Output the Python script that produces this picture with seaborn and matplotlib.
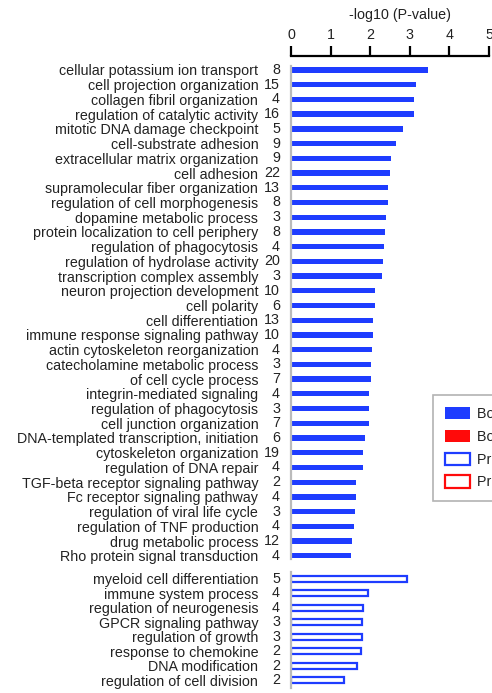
import matplotlib
matplotlib.use("Agg")
import matplotlib.pyplot as plt
from matplotlib.patches import Patch
import seaborn as sns
import pandas as pd

sns.set_style("white")
plt.rcParams["font.family"] = ["Liberation Sans", "DejaVu Sans"]

# Terms enriched in both datasets (filled bars)
both_terms = [
    "cellular potassium ion transport", "cell projection organization",
    "collagen fibril organization", "regulation of catalytic activity",
    "mitotic DNA damage checkpoint", "cell-substrate adhesion",
    "extracellular matrix organization", "cell adhesion",
    "supramolecular fiber organization", "regulation of cell morphogenesis",
    "dopamine metabolic process", "protein localization to cell periphery",
    "regulation of phagocytosis", "regulation of hydrolase activity",
    "transcription complex assembly", "neuron projection development",
    "cell polarity", "cell differentiation",
    "immune response signaling pathway", "actin cytoskeleton reorganization",
    "catecholamine metabolic process", "of cell cycle process",
    "integrin-mediated signaling", "regulation of phagocytosis",
    "cell junction organization", "DNA-templated transcription, initiation",
    "cytoskeleton organization", "regulation of DNA repair",
    "TGF-beta receptor signaling pathway", "Fc receptor signaling pathway",
    "regulation of viral life cycle", "regulation of TNF production",
    "drug metabolic process", "Rho protein signal transduction",
]
both_counts = [8, 15, 4, 16, 5, 9, 9, 22, 13, 8, 3, 8, 4, 20, 3, 10, 6, 13,
               10, 4, 3, 7, 4, 3, 7, 6, 19, 4, 2, 4, 3, 4, 12, 4]
both_logp = [3.45, 3.16, 3.10, 3.10, 2.84, 2.66, 2.52, 2.50, 2.46, 2.44,
             2.41, 2.37, 2.35, 2.33, 2.31, 2.11, 2.11, 2.08, 2.06, 2.04,
             2.03, 2.01, 1.97, 1.96, 1.96, 1.86, 1.81, 1.81, 1.65, 1.65,
             1.62, 1.60, 1.54, 1.52]

# Terms enriched in the protein dataset only (outlined bars)
prot_terms = [
    "myeloid cell differentiation", "immune system process",
    "regulation of neurogenesis", "GPCR signaling pathway",
    "regulation of growth", "response to chemokine",
    "DNA modification", "regulation of cell division",
]
prot_counts = [5, 4, 4, 3, 3, 2, 2, 2]
prot_logp = [2.93, 1.94, 1.83, 1.80, 1.80, 1.77, 1.67, 1.35]

legend_labels = ["Both up", "Both down", "Protein up", "Protein down"]
xticks = [0, 1, 2, 3, 4, 5]

BLUE = "#1E3CFF"
RED = "#FF0A0A"
TEXT = "#222222"
SPINE = "#BBBBBB"
FS = 10.3

W, H = 492, 693
fig = plt.figure(figsize=(W / 100, H / 100), dpi=100)

x0, x1 = 291, 489


def axes_box(top_px, bottom_px):
    return [x0 / W, 1 - bottom_px / H, (x1 - x0) / W, (bottom_px - top_px) / H]


ax1 = fig.add_axes(axes_box(66, 559))
ax2 = fig.add_axes(axes_box(571.5, 688))


def draw_group(ax, terms, counts, values, filled, ylim):
    df = pd.DataFrame({"row": list(range(len(terms))), "value": values})
    if filled:
        sns.barplot(data=df, x="value", y="row", orient="h", color=BLUE,
                    saturation=1, width=0.36, linewidth=0, ax=ax,
                    native_scale=True)
    else:
        sns.barplot(data=df, x="value", y="row", orient="h", color=BLUE,
                    saturation=1, fill=False, width=0.42, linewidth=1.6,
                    ax=ax, native_scale=True)
    ax.set_xlim(0, 5)
    ax.set_ylim(*ylim)
    ax.set_yticks(range(len(terms)))
    ax.set_yticklabels(terms, fontsize=FS, color=TEXT)
    ax.tick_params(axis="y", length=0, pad=23.5)
    for i, c in enumerate(counts):
        ax.text(-11 / (x1 - x0), i, str(c), transform=ax.get_yaxis_transform(),
                ha="right", va="center", fontsize=FS, color=TEXT)
    ax.set_xlabel("")
    ax.set_ylabel("")
    for s in ["right", "bottom", "top"]:
        ax.spines[s].set_visible(False)
    ax.spines["left"].set_color(SPINE)
    ax.spines["left"].set_linewidth(1.6)


draw_group(ax1, both_terms, both_counts, both_logp, True, (33.22, -0.27))
draw_group(ax2, prot_terms, prot_counts, prot_logp, False, (7.55, -0.5))

# Value axis drawn along the top of the upper panel
ax1.spines["top"].set_visible(True)
ax1.spines["top"].set_color("black")
ax1.spines["top"].set_linewidth(1.6)
ax1.spines["top"].set_position(("outward", 7))
ax1.xaxis.set_ticks_position("top")
ax1.set_xticks(xticks)
ax1.set_xticklabels([str(t) for t in xticks], fontsize=FS, color=TEXT)
ax1.tick_params(axis="x", direction="out", length=7, width=1.6, pad=3,
                color="black")
ax2.set_xticks([])

fig.text(400 / W, 1 - 15 / H, "-log10 (P-value)", ha="center", va="center",
         fontsize=FS, color=TEXT)

handles = [
    Patch(facecolor=BLUE, edgecolor=BLUE, linewidth=0),
    Patch(facecolor=RED, edgecolor=RED, linewidth=0),
    Patch(facecolor="white", edgecolor=BLUE, linewidth=1.6),
    Patch(facecolor="white", edgecolor=RED, linewidth=1.6),
]
leg = fig.legend(handles, legend_labels, loc="upper left",
                 bbox_to_anchor=(433 / W, 1 - 395 / H), fontsize=FS,
                 frameon=True, fancybox=False, handlelength=1.75,
                 handleheight=0.95, labelspacing=0.6, handletextpad=0.5,
                 borderpad=0.85, borderaxespad=0)
leg.get_frame().set_edgecolor("#A0A0A0")
leg.get_frame().set_linewidth(1.2)
for t in leg.get_texts():
    t.set_color(TEXT)

fig.savefig("out.png", dpi=100)
